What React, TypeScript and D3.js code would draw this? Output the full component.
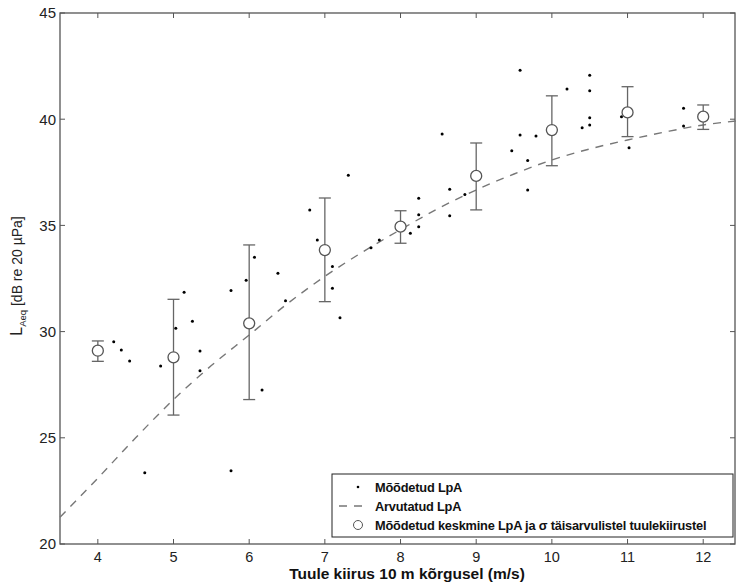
import React from 'react';
import * as d3 from 'd3';

// measured points (wind speed, LpA)
const measX = [4.21, 4.31, 4.42, 4.62, 4.83, 5.03, 5.14, 5.25, 5.35, 5.35, 5.76, 5.76, 5.96,
  6.07, 6.17, 6.38, 6.48, 6.8, 6.9, 7.1, 7.1, 7.2, 7.31, 7.61, 7.72, 8.13, 8.24, 8.24, 8.24,
  8.55, 8.65, 8.65, 8.85, 9.47, 9.58, 9.58, 9.68, 9.68, 9.79, 10.2, 10.4, 10.5, 10.5, 10.5,
  10.5, 10.92, 11.02, 11.74, 11.74];
const measY = [29.52, 29.13, 28.62, 23.36, 28.38, 30.16, 31.85, 30.49, 29.09, 28.16, 31.93, 23.45, 32.42,
  33.5, 27.25, 32.75, 31.45, 35.73, 34.31, 33.06, 32.04, 30.65, 37.36, 33.95, 34.31, 34.63, 35.5, 34.94, 36.28,
  39.3, 36.7, 35.46, 36.46, 38.52, 42.3, 39.26, 38.05, 36.67, 39.21, 41.42, 39.6, 42.07, 41.34, 40.07,
  39.73, 40.12, 38.66, 40.51, 39.68];

// computed curve
const calcX = [3.5, 4, 4.5, 5, 5.5, 6, 6.5, 7, 7.5, 8, 8.5, 9, 9.5, 10, 10.5, 11, 11.5, 12, 12.45];
const calcY = [21.26, 23.1, 25.0, 26.8, 28.4, 29.84, 31.3, 32.6, 33.75, 34.8, 35.8, 36.67, 37.42, 38.08, 38.6, 39.02, 39.4, 39.73, 39.92];

// means with sigma at integer speeds
const meanX = [4, 5, 6, 7, 8, 9, 10, 11, 12];
const meanY = [29.1, 28.79, 30.39, 33.84, 34.94, 37.33, 39.49, 40.32, 40.12];
const errLow = [28.6, 26.07, 26.8, 31.41, 34.16, 35.73, 37.81, 39.18, 39.52];
const errHigh = [29.56, 31.52, 34.08, 36.29, 35.69, 38.88, 41.1, 41.53, 40.67];

const xTicks = [4, 5, 6, 7, 8, 9, 10, 11, 12];
const yTicks = [20, 25, 30, 35, 40, 45];

const legendLabels = [
  'Mõõdetud LpA',
  'Arvutatud LpA',
  'Mõõdetud keskmine LpA ja σ täisarvulistel tuulekiirustel',
];

const font = 'Liberation Sans, Arial, sans-serif';
const axisColor = '#555';

export default function App() {
  const width = 736;
  const height = 584;
  const left = 60, right = 735, top = 13, bottom = 544;

  const x = d3.scaleLinear().domain([3.5, 12.42]).range([left, right]);
  const y = d3.scaleLinear().domain([20, 45]).range([bottom, top]);

  const line = d3.line<number>()
    .x((_, i) => x(calcX[i]))
    .y((d) => y(d))
    .curve(d3.curveMonotoneX);

  const tickLen = 5;
  const lg = { x: 332, y: 474, w: 401, h: 63 };
  const rowY = [487, 506, 525];

  return (
    <svg width={width} height={height} style={{ position: 'absolute', left: 0, top: 0, background: '#fff' }}
      fontFamily={font}>
      <rect x={0} y={0} width={width} height={height} fill="#fff" />

      {/* frame */}
      <rect x={left} y={top} width={right - left} height={bottom - top} fill="none" stroke={axisColor} strokeWidth={1.3} />

      {/* x ticks */}
      {xTicks.map((t) => (
        <g key={'xt' + t}>
          <line x1={x(t)} x2={x(t)} y1={bottom} y2={bottom - tickLen} stroke={axisColor} />
          <line x1={x(t)} x2={x(t)} y1={top} y2={top + tickLen} stroke={axisColor} />
          <text x={x(t)} y={bottom + 18} textAnchor="middle" fontSize={14.5} fill="#222">{t}</text>
        </g>
      ))}

      {/* y ticks */}
      {yTicks.map((t) => (
        <g key={'yt' + t}>
          <line x1={left} x2={left + tickLen} y1={y(t)} y2={y(t)} stroke={axisColor} />
          <line x1={right} x2={right - tickLen} y1={y(t)} y2={y(t)} stroke={axisColor} />
          <text x={left - 4} y={y(t)} dy="0.36em" textAnchor="end" fontSize={15} fill="#222">{t}</text>
        </g>
      ))}

      {/* computed curve */}
      <path d={line(calcY) || ''} fill="none" stroke="#777" strokeWidth={1.4} strokeDasharray="8,7" />

      {/* measured points */}
      {measX.map((mx, i) => (
        <circle key={'m' + i} cx={x(mx)} cy={y(measY[i])} r={1.5} fill="#000" />
      ))}

      {/* error bars and means */}
      {meanX.map((mx, i) => (
        <g key={'e' + i} stroke="#666" strokeWidth={1.3}>
          <line x1={x(mx)} x2={x(mx)} y1={y(errLow[i])} y2={y(errHigh[i])} />
          <line x1={x(mx) - 6} x2={x(mx) + 6} y1={y(errLow[i])} y2={y(errLow[i])} />
          <line x1={x(mx) - 6} x2={x(mx) + 6} y1={y(errHigh[i])} y2={y(errHigh[i])} />
          <circle cx={x(mx)} cy={y(meanY[i])} r={5.5} fill="#fff" stroke="#555" />
        </g>
      ))}

      {/* legend */}
      <rect x={lg.x} y={lg.y} width={lg.w} height={lg.h} fill="#fff" stroke="#222" strokeWidth={1} />
      <circle cx={358} cy={rowY[0]} r={1.3} fill="#000" />
      <line x1={339} x2={366} y1={rowY[1]} y2={rowY[1]} stroke="#777" strokeWidth={1.4} strokeDasharray="8,7" />
      <circle cx={358} cy={rowY[2]} r={4.5} fill="#fff" stroke="#555" strokeWidth={1} />
      {legendLabels.map((s, i) => (
        <text key={'l' + i} x={375} y={rowY[i]} dy="0.36em" fontSize={12.8} fontWeight="bold" fill="#111"
          style={{ letterSpacing: '-0.2px' }}>{s}</text>
      ))}

      {/* axis labels */}
      <text x={407} y={579} textAnchor="middle" fontSize={15.5} fontWeight="bold" fill="#111">
        Tuule kiirus 10 m kõrgusel (m/s)
      </text>
      <text transform="translate(22,276) rotate(-90)" textAnchor="middle" fontSize={14} fill="#222">
        <tspan fontSize={16}>L</tspan>
        <tspan fontSize={9.5} dy={4}>Aeq</tspan>
        <tspan dy={-4}> [dB re 20 µPa]</tspan>
      </text>
    </svg>
  );
}
